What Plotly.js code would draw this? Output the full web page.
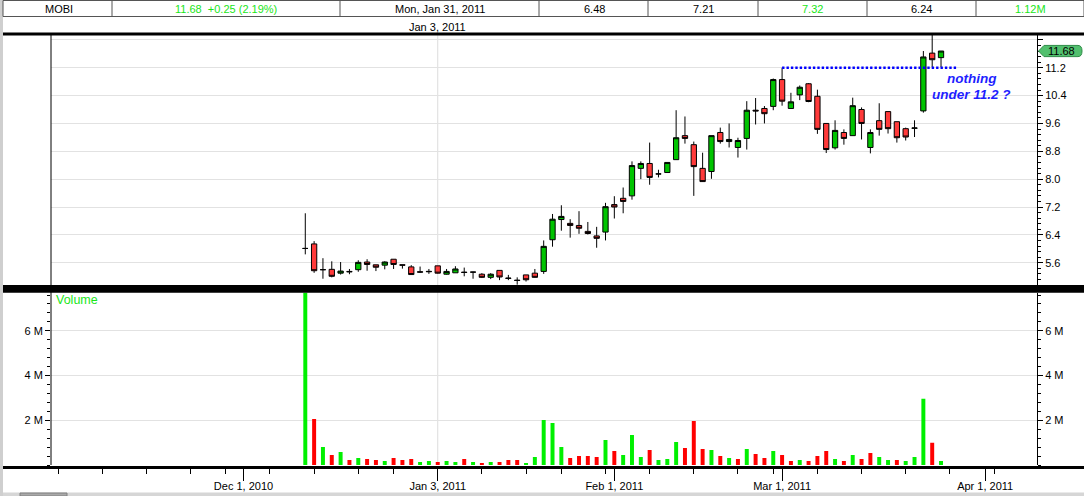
<!DOCTYPE html>
<html><head><meta charset="utf-8">
<script src="https://cdn.plot.ly/plotly-3.0.1.min.js"></script>
<style>html,body{margin:0;padding:0;background:#fff;overflow:hidden}#chart{width:1084px;height:496px}</style>
</head><body><div id="chart"></div><script>
// ---------------- data ----------------
const symbol = 'MOBI';
const dates = ['2010-12-10','2010-12-13','2010-12-14','2010-12-15','2010-12-16','2010-12-17','2010-12-20','2010-12-21','2010-12-22','2010-12-23','2010-12-27','2010-12-28','2010-12-29','2010-12-30','2010-12-31',
'2011-01-03','2011-01-04','2011-01-05','2011-01-06','2011-01-07','2011-01-10','2011-01-11','2011-01-12','2011-01-13','2011-01-14','2011-01-18','2011-01-19','2011-01-20','2011-01-21','2011-01-24','2011-01-25','2011-01-26','2011-01-27','2011-01-28','2011-01-31',
'2011-02-01','2011-02-02','2011-02-03','2011-02-04','2011-02-07','2011-02-08','2011-02-09','2011-02-10','2011-02-11','2011-02-14','2011-02-15','2011-02-16','2011-02-17','2011-02-18','2011-02-22','2011-02-23','2011-02-24','2011-02-25','2011-02-28',
'2011-03-01','2011-03-02','2011-03-03','2011-03-04','2011-03-07','2011-03-08','2011-03-09','2011-03-10','2011-03-11','2011-03-14','2011-03-15','2011-03-16','2011-03-17','2011-03-18','2011-03-21','2011-03-22','2011-03-23','2011-03-24','2011-03-25'];
const open = [6.01,6.14,5.40,5.41,5.30,5.35,5.40,5.62,5.54,5.53,
 5.70,5.54,5.48,5.34,5.34,5.51,5.27,5.31,5.33,5.33,
 5.27,5.18,5.38,5.16,5.10,5.25,5.30,5.35,6.26,6.84,
 6.73,6.67,6.50,6.37,6.48,7.27,7.45,7.52,8.31,8.45,
 8.15,8.19,8.56,9.25,8.99,8.31,8.22,9.34,9.08,8.91,
 9.17,9.98,10.03,10.09,10.86,10.03,10.42,10.74,10.38,9.60,
 8.90,9.34,9.25,10.00,8.91,9.68,9.94,9.65,9.45,9.46,
 9.96,11.62,11.49];
const high = [7.02,6.22,5.73,5.64,5.62,5.42,5.67,5.70,5.54,5.64,
 5.70,5.54,5.53,5.49,5.42,5.51,5.42,5.50,5.46,5.34,
 5.30,5.30,5.38,5.25,5.18,5.25,5.42,6.24,7.00,7.25,
 6.85,7.08,6.77,6.63,7.32,7.51,7.76,8.51,8.51,9.05,
 8.27,8.48,9.98,9.80,9.08,8.76,9.25,9.48,9.60,9.19,
 10.24,10.33,10.10,10.89,11.20,10.48,10.69,10.76,10.57,9.60,
 9.69,9.43,10.34,10.06,9.43,10.18,9.94,9.65,9.48,9.69,
 11.68,12.20,11.68];
const low = [5.84,5.31,5.14,5.18,5.26,5.27,5.34,5.37,5.36,5.41,
 5.42,5.43,5.26,5.31,5.28,5.29,5.26,5.31,5.21,5.14,
 5.16,5.13,5.10,5.10,4.97,5.06,5.17,5.28,6.06,6.52,
 6.32,6.43,6.41,6.03,6.24,6.87,7.02,7.41,8.00,7.84,
 8.05,8.19,8.56,9.02,7.52,7.92,8.01,9.02,8.91,8.62,
 8.85,9.57,9.60,9.98,10.11,10.03,10.27,10.21,9.30,8.75,
 8.85,8.99,9.25,9.14,8.74,9.25,9.31,9.05,9.11,9.21,
 9.91,11.22,11.22];
const close = [6.01,5.37,5.40,5.21,5.36,5.34,5.61,5.55,5.47,5.62,
 5.55,5.53,5.26,5.33,5.35,5.30,5.35,5.42,5.32,5.33,
 5.18,5.27,5.19,5.15,5.09,5.11,5.18,6.07,6.85,6.93,
 6.67,6.59,6.44,6.30,7.21,7.20,7.36,8.39,8.45,8.05,
 8.15,8.48,9.19,9.17,8.36,7.93,9.25,9.08,9.14,9.11,
 9.98,9.96,9.88,10.86,10.24,10.22,10.64,10.23,9.43,8.85,
 9.40,9.17,10.11,9.60,9.34,9.43,9.45,9.19,9.21,9.47,
 11.51,11.43,11.68];
const volumeM = [8.4,2.06,0.81,0.45,0.58,0.22,0.31,0.27,0.22,0.18,
 0.31,0.22,0.27,0.13,0.18,0.13,0.18,0.13,0.27,0.13,
 0.09,0.13,0.13,0.22,0.22,0.09,0.36,2.01,1.88,0.81,
 0.31,0.40,0.40,0.36,1.12,0.63,0.45,1.34,0.36,0.67,
 0.22,0.27,1.03,0.76,1.97,0.72,0.67,0.40,0.31,0.27,
 0.72,0.49,0.31,0.63,0.45,0.18,0.22,0.18,0.40,0.63,
 0.27,0.18,0.45,0.27,0.54,0.36,0.22,0.22,0.18,0.36,
 2.96,0.99,0.18];
const holidays = ['2010-11-25','2010-12-24','2011-01-17','2011-02-21'];
const monthTicks = ['2010-12-01','2011-01-03','2011-02-01','2011-03-01','2011-04-01'];
const monthLabels = ['Dec 1, 2010','Jan 3, 2011','Feb 1, 2011','Mar 1, 2011','Apr 1, 2011'];
const weekTicks = ['2010-11-01','2010-11-08','2010-11-15','2010-11-22','2010-11-29','2010-12-06','2010-12-13','2010-12-20','2010-12-27','2011-01-03','2011-01-10','2011-01-18','2011-01-24','2011-01-31','2011-02-07','2011-02-14','2011-02-22','2011-02-28','2011-03-07','2011-03-14','2011-03-21','2011-03-28','2011-04-04'];
const xRange = ['2010-10-29 04:48','2011-04-08 20:53'];
const priceTicks = [5.6,6.4,7.2,8.0,8.8,9.6,10.4,11.2,12.0];
const priceTickText = ['5.6','6.4','7.2','8.0','8.8','9.6','10.4','11.2',''];
const priceRange = [4.96,12.14];
const volTicks = [2,4,6];
const volTickText = ['2 M','4 M','6 M'];
const volRange = [0,7.7];
const crosshairDate = '2011-01-03';
const crosshairLabel = 'Jan 3, 2011';
const infoDate = '2011-01-31';
const infoLabel = 'Mon, Jan 31, 2011';
const levelLine = {start:'2011-03-01', end:'2011-03-28 18:00', price:11.2};
const noteLines = ['nothing','under 11.2 ?'];

// ---------------- helpers (layout pixel -> paper) ----------------
const W=1084,H=496,ML=51,MR=47,MT=35,MB=31;
const PW=W-ML-MR, PH=H-MT-MB;
const px = x => (x-ML)/PW;
const py = y => (H-MB-y)/PH;
const FONT = 'Liberation Sans, Arial, sans-serif';
const LIME = '#19e619';

// volume colors: up vs previous close
const volColors = close.map((c,i)=> (i===0 || c>=close[i-1]) ? '#00f000' : '#ff0000');

const last = close[close.length-1], prev = close[close.length-2];
const chg = last-prev, pct = chg/prev*100;
const ii = dates.indexOf(infoDate);

const traces = [
  {type:'candlestick', x:dates, open:open, high:high, low:low, close:close,
   xaxis:'x', yaxis:'y', whiskerwidth:0, hoverinfo:'skip',
   increasing:{line:{color:'#000',width:1}, fillcolor:'#00c400'},
   decreasing:{line:{color:'#000',width:1}, fillcolor:'#ff3a3a'}},
  {type:'bar', x:dates, y:volumeM, xaxis:'x', yaxis:'y2', marker:{color:volColors, line:{width:0}}, hoverinfo:'skip'},
  {type:'scatter', x:[], y:[], xaxis:'x', yaxis:'y3', hoverinfo:'skip'}
];

const shapes = [];
// crosshair
shapes.push({type:'line', xref:'x', yref:'paper', x0:crosshairDate, x1:crosshairDate, y0:0, y1:1, line:{color:'#dcdcdc',width:1}, layer:'below'});
// window left border
shapes.push({type:'rect', xref:'paper', yref:'paper', x0:px(0), x1:px(3), y0:py(496), y1:py(0), fillcolor:'#cfcfcf', line:{width:0}});
// header box and dividers
shapes.push({type:'rect', xref:'paper', yref:'paper', x0:px(3), x1:px(1084), y0:py(16.5), y1:py(0.5), fillcolor:'rgba(0,0,0,0)', line:{color:'#555',width:1}});
[112,340,539,648,758,867,976].forEach(x=>shapes.push({type:'line', xref:'paper', yref:'paper', x0:px(x), x1:px(x), y0:py(16.5), y1:py(0.5), line:{color:'#555',width:1}}));
// thick frame lines
shapes.push({type:'line', xref:'paper', yref:'paper', x0:px(3), x1:px(1084), y0:py(34), y1:py(34), line:{color:'#000',width:3}});
shapes.push({type:'rect', xref:'paper', yref:'paper', x0:px(3), x1:px(1084), y0:py(292.8), y1:py(285), fillcolor:'#000', line:{width:0}});
shapes.push({type:'line', xref:'paper', yref:'paper', x0:px(3), x1:px(1084), y0:py(467.6), y1:py(467.6), line:{color:'#000',width:3}});
// left axis line
shapes.push({type:'line', xref:'paper', yref:'paper', x0:0, x1:0, y0:0, y1:1, line:{color:'#000',width:1}});
// bottom scrollbar
shapes.push({type:'rect', xref:'paper', yref:'paper', x0:px(3), x1:px(1084), y0:py(496), y1:py(492.5), fillcolor:'#d6d6d6', line:{width:0}});
shapes.push({type:'rect', xref:'paper', yref:'paper', x0:px(20), x1:px(67), y0:py(496), y1:py(493), fillcolor:'#a9a9a9', line:{color:'#808080',width:1}});
// level line
shapes.push({type:'line', xref:'x', yref:'y', x0:levelLine.start, x1:levelLine.end, y0:levelLine.price, y1:levelLine.price, line:{color:'#0000ff',width:2.6,dash:'2.4px,2px'}});
// last price pill
const ppu = (285-35)/(priceRange[1]-priceRange[0]);
const hh = 5.6/ppu;
shapes.push({type:'path', xref:'paper', yref:'y', fillcolor:'#52c06e', line:{color:'#2f8c48',width:1},
  path:`M ${px(1038.5)},${last} L ${px(1044)},${last+hh} L ${px(1078)},${last+hh} Q ${px(1082)},${last+hh} ${px(1082)},${last} Q ${px(1082)},${last-hh} ${px(1078)},${last-hh} L ${px(1044)},${last-hh} Z`});

const ann = [];
function txt(x,y,t,color,size,extra){ ann.push(Object.assign({xref:'paper',yref:'paper',x:px(x),y:py(y),text:t,showarrow:false,xanchor:'center',yanchor:'middle',font:{family:FONT,size:size||11,color:color||'#000'}},extra||{})); }
txt(59,9.5,symbol);
txt(226,9.5,last.toFixed(2)+'&nbsp;&nbsp;'+(chg>=0?'+':'')+chg.toFixed(2)+' ('+pct.toFixed(2)+'%)',LIME);
txt(440,9.5,infoLabel);
const info = [open[ii].toFixed(2), close[ii].toFixed(2), high[ii].toFixed(2), low[ii].toFixed(2), volumeM[ii].toFixed(2)+'M'];
const infoCol = ['#000','#000',LIME,'#000',LIME];
const infoX = [594,703,812,921,1030];
info.forEach((t,k)=>txt(infoX[k],9.5,t,infoCol[k]));
ann.push({xref:'x',yref:'paper',x:crosshairDate,y:py(27),text:crosshairLabel,showarrow:false,xanchor:'center',yanchor:'middle',font:{family:FONT,size:11,color:'#000'}});
txt(54,300,'Volume',LIME,12.5,{xanchor:'left'});
txt(971.7,78.5,'<b><i>'+noteLines[0]+'</i></b>','#1e1eff',13.5);
txt(971.7,94.2,'<b><i>'+noteLines[1]+'</i></b>','#1e1eff',13.5);
ann.push({xref:'paper',yref:'y',x:px(1061),y:last,text:last.toFixed(2),showarrow:false,xanchor:'center',yanchor:'middle',font:{family:FONT,size:11,color:'#000'}});

const axFont = {family:FONT,size:11,color:'#000'};
const layout = {
  width:W, height:H, margin:{l:ML,r:MR,t:MT,b:MB,pad:0},
  paper_bgcolor:'#fff', plot_bgcolor:'#fff', showlegend:false,
  font:{family:FONT,size:11,color:'#000'},
  boxgap:0.4, boxgroupgap:0, bargap:0.55,
  xaxis:{type:'date', anchor:'y2', domain:[0,1], range:xRange,
    rangebreaks:[{bounds:['sat','mon']},{values:holidays}],
    rangeslider:{visible:false}, tickmode:'array', tickvals:monthTicks, ticktext:monthLabels,
    ticks:'outside', ticklen:15, tickwidth:1, tickcolor:'#000', ticklabelstandoff:-4,
    minor:{tickmode:'array', tickvals:weekTicks, ticks:'outside', ticklen:8, tickwidth:1, tickcolor:'#000', showgrid:false},
    showgrid:false, zeroline:false, showline:false, tickfont:axFont, fixedrange:true},
  yaxis:{domain:[py(285),1], anchor:'x', side:'right', range:priceRange,
    tickmode:'array', tickvals:priceTicks, ticktext:priceTickText,
    ticks:'outside', ticklen:5, tickwidth:1, tickcolor:'#000',
    minor:{tickmode:'linear', tick0:0, dtick:0.16, ticks:'outside', ticklen:3, tickcolor:'#000', showgrid:false},
    showline:true, linecolor:'#000', linewidth:1, showgrid:true, gridcolor:'#e2e2e2', gridwidth:1,
    zeroline:false, tickfont:axFont, fixedrange:true},
  yaxis2:{domain:[0,py(292.8)], anchor:'x', side:'right', range:volRange,
    tickmode:'array', tickvals:volTicks, ticktext:volTickText,
    ticks:'outside', ticklen:5, tickwidth:1, tickcolor:'#000',
    minor:{tickmode:'linear', tick0:0, dtick:0.4, ticks:'outside', ticklen:3, tickcolor:'#000', showgrid:false},
    showline:true, linecolor:'#000', linewidth:1, showgrid:true, gridcolor:'#e2e2e2', gridwidth:1,
    zeroline:false, tickfont:axFont, fixedrange:true},
  yaxis3:{overlaying:'y2', anchor:'x', side:'left', range:volRange,
    tickmode:'array', tickvals:volTicks, ticktext:volTickText,
    ticks:'outside', ticklen:5, tickwidth:1, tickcolor:'#000',
    minor:{tickmode:'linear', tick0:0, dtick:0.4, ticks:'outside', ticklen:3, tickcolor:'#000', showgrid:false},
    showline:false, showgrid:false, zeroline:false, tickfont:axFont, fixedrange:true},
  shapes:shapes, annotations:ann
};
Plotly.newPlot('chart', traces, layout, {displayModeBar:false, staticPlot:true});
</script></body></html>
